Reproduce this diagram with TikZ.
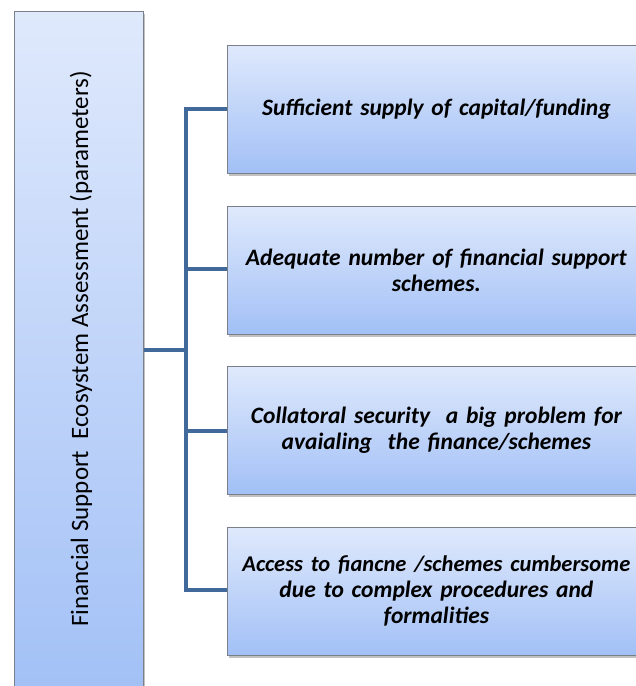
\documentclass[tikz,border=0pt]{standalone}
\usepackage{fontspec}
\setmainfont{Carlito}
\usetikzlibrary{shadows,calc}
\definecolor{boxtop}{HTML}{DFE9FC}
\definecolor{boxbot}{HTML}{A2C0F6}
\definecolor{boxline}{HTML}{7A7F88}
\definecolor{linkcol}{HTML}{41699B}
\tikzset{
  gradbox/.style={rectangle, draw=boxline, line width=0.8pt, top color=boxtop, bottom color=boxbot,
    drop shadow={shadow xshift=2pt, shadow yshift=-3pt, opacity=0.35, fill=black!70}},
  itembox/.style={gradbox, minimum width=418pt, minimum height=128pt, anchor=north west,
    text width=418pt, align=center, font=\fontsize{23.5}{26}\selectfont\bfseries\itshape, inner sep=0pt},
  link/.style={draw=linkcol, line width=4pt},
}
\begin{document}
\begin{tikzpicture}[x=1pt,y=-1pt]
\useasboundingbox (0,0) rectangle (636,686);
\clip (0,0) rectangle (636,686);
\node[gradbox, anchor=north west, minimum width=129pt, minimum height=690pt, inner sep=0pt] (main) at (14,11) {};
\node[rotate=90, font=\fontsize{25}{28}\selectfont] (maintext) at (81,349) {Financial Support\ \ Ecosystem Assessment (parameters)};
\node[itembox] (b1) at (227,45) {Sufficient supply of capital/funding};
\node[itembox] (b2) at (227,206) {Adequate number of financial support\\schemes.};
\node[itembox] (b3) at (227,366) {Collatoral security\ \ a big problem for\\avaialing\ \ the finance/schemes};
\node[itembox] (b4) at (227,527) {\makebox[0pt]{\fontsize{22.5}{26}\selectfont Access to fiancne /schemes cumbersome}\\due to complex procedures and\\formalities};
\coordinate (spine) at (186,350);
\draw[link] (main.east |- spine) -- (spine);
\draw[link, line cap=butt] (b1.west |- 0,109) -| (spine |- 0,109) -- (spine |- 0,590) -- (b4.west |- 0,590);
\draw[link] (spine |- 0,269) -- (b2.west |- 0,269);
\draw[link] (spine |- 0,431) -- (b3.west |- 0,431);
\end{tikzpicture}
\end{document}
